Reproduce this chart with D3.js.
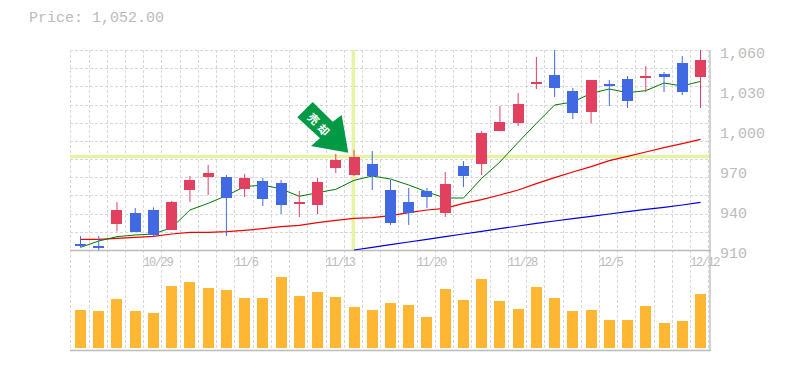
<!DOCTYPE html>
<html>
<head>
<meta charset="utf-8">
<script src="https://cdn.jsdelivr.net/npm/d3@7"></script>
<style>
  html, body { margin: 0; padding: 0; background: #fff; }
  svg { display: block; }
  text { font-family: "Liberation Mono", monospace; fill: #bbb; }
</style>
</head>
<body>
<div id="chart"></div>
<script>
const opens = [914.5, 913, 929.5, 937.75, 940, 925, 955, 964.75, 964.75, 955.75, 961.75, 960.25, 944.5, 943.75, 971.5, 966.25, 974.5, 955, 946, 954.25, 937.75, 973, 974.5, 999.25, 1005.25, 1034.5, 1041.25, 1029.25, 1013.5, 1034.5, 1038.25, 1039.75, 1042, 1050.25, 1039.75];
const highs = [920.5, 920.5, 946, 941.5, 942, 946.75, 965.5, 973.75, 966.25, 967, 964, 962.5, 954.25, 964, 982, 985, 984.25, 962.5, 956.5, 956.5, 968.5, 976.75, 999.25, 1018, 1027.75, 1054.75, 1062, 1031.5, 1037.5, 1037.5, 1040.5, 1048, 1043.5, 1055.5, 1062];
const lows = [912, 909.5, 924, 923.5, 920, 925, 946, 951.25, 920.5, 949.75, 943, 937, 934.75, 937, 967.75, 965.5, 955, 928.75, 928.75, 941.5, 934.75, 957.25, 966.25, 999.25, 1003, 1030.75, 1024.75, 1008.25, 1005.25, 1018, 1016.5, 1028.5, 1028.5, 1026.25, 1016.5];
const closes = [913, 911.5, 940, 923.5, 921.25, 946, 962.5, 967.75, 949, 964, 948.25, 943.75, 946, 961, 977.5, 979.75, 965.5, 930.25, 937.75, 949.75, 959.5, 965.5, 997.75, 1006, 1019.5, 1036, 1031.5, 1012.75, 1037.5, 1033, 1021.75, 1040.5, 1039.75, 1028.5, 1052.5];
const volumes = [38, 37, 49, 37, 35, 62, 66, 60, 58, 50, 50, 71, 52, 56, 51, 41, 38, 45, 43, 31, 59, 48, 69, 47, 39, 61, 50, 37, 38, 28, 28, 42, 25, 27, 54];

const maShort = [912, 916.75, 920, 921.25, 922, 926.75, 940, 945, 950.75, 957.5, 958.75, 955.75, 950.25, 953, 955.5, 962.25, 965.5, 963.25, 958.75, 953.5, 949, 949, 963.75, 976, 990.75, 1005, 1018.75, 1021, 1027.5, 1030.75, 1028, 1029.5, 1035.25, 1033, 1036.5];
const maMid = [918, 918, 918.75, 919.5, 920.25, 922, 923.25, 923.25, 923.75, 924.75, 926, 927.5, 928.5, 930.5, 932.25, 933.75, 934.25, 935.75, 938, 940, 941.25, 945, 947.75, 951.25, 955, 959.75, 964.25, 968.5, 972.5, 977, 980.25, 983.5, 986.75, 989.75, 993];
const maLong = [null, null, null, null, null, null, null, null, null, null, null, null, null, null, null, 910, 912, 914, 916, 918, 920, 922, 924, 926, 928, 930, 931.75, 933.5, 935.25, 937, 938.75, 940.5, 942, 943.75, 945.75];

const priceTicks = [1060, 1030, 1000, 970, 940, 910];
const dateLabels = ['10/29', '11/6', '11/13', '11/20', '11/28', '12/5', '12/12'];
const dateIndex = [4, 9, 14, 19, 24, 29, 34];
const markerIndex = 15;
const markerPrice = 979.75;
const markerText = ['売', '却'];
const lastPrice = 'Price: 1,052.00';

const width = 785, height = 370;
const plotLeft = 70, plotRight = 710, plotTop = 50, plotBottom = 250, volTop = 268, volBottom = 348, volAxis = 350;

const svg = d3.select('#chart').append('svg')
  .attr('width', width)
  .attr('height', height);

const indexes = d3.range(opens.length);

// candles sit on a point scale, grid cells are offset about 10px to the left
const x = d3.scalePoint().domain(indexes).range([80.5, 700.5]);
const xGrid = d3.scaleLinear().domain([0, 35]).range([70.3, 708.4]);
const y = d3.scaleLinear().domain([910, 1060]).range([plotBottom, plotTop]);
const yVol = d3.scaleLinear().domain([0, 80]).range([volBottom, volTop]);
const yGrid = d3.scaleLinear().domain([0, 11]).range([plotTop, plotBottom]);

svg.append('defs').append('clipPath').attr('id', 'plot')
  .append('rect')
  .attr('x', plotLeft).attr('y', plotTop)
  .attr('width', plotRight - plotLeft).attr('height', plotBottom - plotTop);

// gridlines
const grid = svg.append('g')
  .attr('stroke', '#d8d8d8')
  .attr('stroke-dasharray', '3,2')
  .attr('shape-rendering', 'crispEdges');

grid.selectAll('line.h')
  .data(d3.range(0, 11))
  .join('line')
  .attr('class', 'h')
  .attr('x1', plotLeft)
  .attr('x2', plotRight)
  .attr('y1', d => Math.round(yGrid(d)) + 0.5)
  .attr('y2', d => Math.round(yGrid(d)) + 0.5);

grid.selectAll('line.v')
  .data(d3.range(0, 36))
  .join('line')
  .attr('class', 'v')
  .attr('x1', d => Math.round(xGrid(d)) + 0.5)
  .attr('x2', d => Math.round(xGrid(d)) + 0.5)
  .attr('y1', plotTop)
  .attr('y2', volAxis);

// crosshair on the marked candle
const cross = svg.append('g').attr('stroke', '#e4f4a4').attr('stroke-width', 3.5);
cross.append('line')
  .attr('x1', plotLeft).attr('x2', plotRight)
  .attr('y1', y(markerPrice) - 0.4).attr('y2', y(markerPrice) - 0.4);
cross.append('line')
  .attr('x1', x(markerIndex) - 0.7).attr('x2', x(markerIndex) - 0.7)
  .attr('y1', plotTop).attr('y2', plotBottom);

// axes frame
const frame = svg.append('g').attr('stroke', '#bbb').attr('stroke-width', 1.3);
frame.append('line').attr('x1', plotLeft).attr('x2', plotRight + 0.7).attr('y1', plotBottom + 0.5).attr('y2', plotBottom + 0.5);
frame.append('line').attr('x1', plotLeft).attr('x2', plotRight + 0.7).attr('y1', volAxis + 0.5).attr('y2', volAxis + 0.5);
frame.append('line').attr('x1', plotRight).attr('x2', plotRight).attr('y1', plotTop).attr('y2', volAxis + 1);

// moving averages
const line = d3.line()
  .defined(d => d != null)
  .x((d, i) => x(i))
  .y(d => y(d));

[[maLong, '#0000e0', 1.2], [maMid, '#f00000', 1.2], [maShort, '#007a00', 1]].forEach(([values, color, w]) => {
  svg.append('path')
    .datum(values)
    .attr('fill', 'none')
    .attr('stroke', color)
    .attr('stroke-width', w)
    .attr('d', line);
});

// candles, the wicks that run past the top are clipped
const upColor = '#e2405f', downColor = '#4169e1';
const candleColor = i => closes[i] >= opens[i] ? upColor : downColor;

const plot = svg.append('g').attr('clip-path', 'url(#plot)');

plot.selectAll('line.wick')
  .data(indexes)
  .join('line')
  .attr('class', 'wick')
  .attr('x1', d => x(d))
  .attr('x2', d => x(d))
  .attr('y1', d => y(highs[d]))
  .attr('y2', d => y(lows[d]))
  .attr('stroke', candleColor)
  .attr('stroke-width', 1);

plot.selectAll('rect.body')
  .data(indexes)
  .join('rect')
  .attr('class', 'body')
  .attr('x', d => x(d) - 5.5)
  .attr('width', 11)
  .attr('y', d => Math.round(y(Math.max(opens[d], closes[d]))))
  .attr('height', d => Math.max(2, Math.round(y(Math.min(opens[d], closes[d]))) - Math.round(y(Math.max(opens[d], closes[d])))))
  .attr('fill', candleColor)
  .attr('shape-rendering', 'crispEdges');

// volume bars
svg.selectAll('rect.vol')
  .data(indexes)
  .join('rect')
  .attr('class', 'vol')
  .attr('x', d => x(d) - 5.5)
  .attr('width', 11)
  .attr('y', d => yVol(volumes[d]))
  .attr('height', d => volBottom - yVol(volumes[d]))
  .attr('fill', '#ffb733')
  .attr('shape-rendering', 'crispEdges');

// price labels
const yAxis = d3.axisRight(y)
  .tickValues(priceTicks)
  .tickSize(0)
  .tickPadding(0)
  .tickFormat(d3.format(','));

svg.append('g')
  .attr('transform', `translate(720, 3)`)
  .call(yAxis)
  .call(g => g.select('.domain').remove())
  .selectAll('text')
  .attr('font-size', 15)
  .attr('font-family', '"Liberation Mono", monospace')
  .attr('fill', '#bbb');

// date labels, left aligned on their gridline
svg.append('g')
  .selectAll('text')
  .data(dateLabels)
  .join('text')
  .attr('x', (d, i) => xGrid(dateIndex[i]))
  .attr('y', 266)
  .attr('font-size', 12)
  .attr('letter-spacing', -1.4)
  .text(d => d);

// price readout
svg.append('text')
  .attr('x', 29)
  .attr('y', 22)
  .attr('font-size', 15)
  .text(lastPrice);

// arrow marker
const arrow = [[312.7, 102], [332.7, 121.7], [341.7, 115], [348.3, 152.7], [311, 146], [320, 138.3], [297.3, 117.3]];
svg.append('path')
  .attr('d', d3.line()(arrow) + 'Z')
  .attr('fill', '#009944');

svg.selectAll('text.mark')
  .data(markerText)
  .join('text')
  .attr('class', 'mark')
  .attr('transform', (d, i) => `translate(${313.5 + i * 10}, ${119 + i * 11}) rotate(45)`)
  .attr('text-anchor', 'middle')
  .attr('dy', '0.36em')
  .style('font-family', '"Noto Sans CJK JP"')
  .style('font-weight', 700)
  .style('font-size', '11px')
  .style('fill', '#fff')
  .text(d => d);
</script>
</body>
</html>
